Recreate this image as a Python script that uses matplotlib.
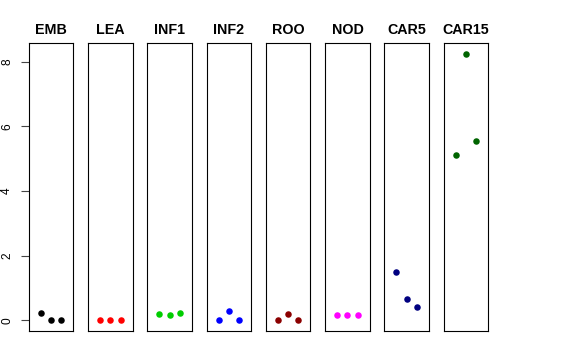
import matplotlib
matplotlib.use("Agg")
import matplotlib.pyplot as plt

plt.rcParams['font.family'] = ['Liberation Sans', 'DejaVu Sans']

categories = ["EMB", "LEA", "INF1", "INF2", "ROO", "NOD", "CAR5", "CAR15"]
x_vals = [1, 2, 3]
values = {
    "EMB":   [0.22, 0.0, 0.0],
    "LEA":   [0.0, 0.0, 0.0],
    "INF1":  [0.19, 0.18, 0.24],
    "INF2":  [0.0, 0.28, 0.0],
    "ROO":   [0.0, 0.19, 0.0],
    "NOD":   [0.165, 0.165, 0.165],
    "CAR5":  [1.50, 0.66, 0.42],
    "CAR15": [5.11, 8.24, 5.56],
}
colors = ["black", "#FF0000", "#00CD00", "#0000FF", "#8B0000", "#FF00FF", "#000080", "#006400"]
yticks = [0, 2, 4, 6, 8]

W, H = 576, 360
fig = plt.figure(figsize=(W / 100, H / 100), dpi=100)

left0 = 28.7
step = 59.3
pw = 44.5
top = 43
bottom = 331

for i, (cat, col) in enumerate(zip(categories, colors)):
    l = left0 + step * i
    ax = fig.add_axes([l / W, (H - bottom) / H, pw / W, (bottom - top) / H])
    ax.scatter(x_vals, values[cat], s=22, color=col, zorder=3, linewidths=0)
    ax.set_xlim(-0.16, 4.16)
    ax.set_ylim(-0.33, 8.58)
    ax.set_xticks([])
    ax.set_title(cat, fontsize=10.3, fontweight='bold', pad=6.5)
    for sp in ax.spines.values():
        sp.set_linewidth(0.8)
        sp.set_color('black')
    if i == 0:
        ax.set_yticks(yticks)
        ax.set_yticklabels([str(t) for t in yticks], rotation=90, va='center', fontsize=8.6)
        ax.tick_params(axis='y', length=5.8, width=0.8, pad=5.5, color='#444444')
    else:
        ax.set_yticks([])

fig.savefig("out.png", dpi=100)
